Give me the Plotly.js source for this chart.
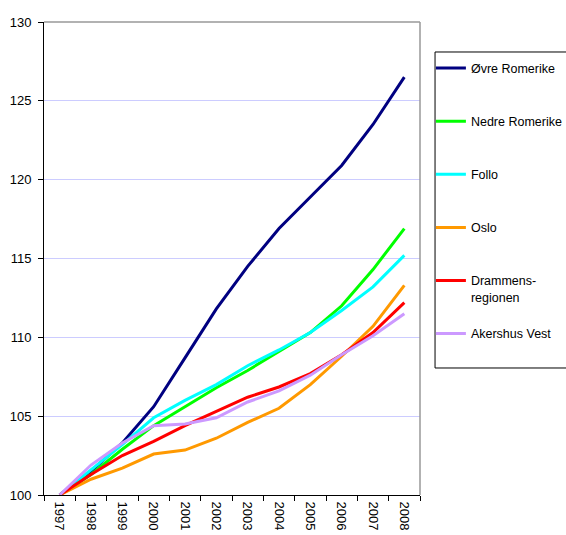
<!DOCTYPE html>
<html>
<head>
<meta charset="utf-8">
<script src="https://cdn.plot.ly/plotly-3.0.1.min.js"></script>
<style>html,body{margin:0;padding:0;background:#fff;}#chart{width:566px;height:535px;}</style>
</head>
<body>
<div id="chart"></div>
<script>
const years = ['1997','1998','1999','2000','2001','2002','2003','2004','2005','2006','2007','2008'];
const ovreRomerike = [100, 101.5, 103.3, 105.6, 108.7, 111.8, 114.5, 116.9, 118.9, 120.9, 123.5, 126.5];
const nedreRomerike = [100, 101.3, 102.9, 104.4, 105.6, 106.8, 107.9, 109.1, 110.3, 112.0, 114.3, 116.9];
const follo = [100, 101.6, 103.2, 104.9, 106.0, 107.0, 108.2, 109.2, 110.3, 111.7, 113.2, 115.2];
const oslo = [100, 101.0, 101.7, 102.6, 102.85, 103.6, 104.6, 105.5, 107.0, 108.8, 110.7, 113.3];
const drammensregionen = [100, 101.3, 102.5, 103.4, 104.4, 105.3, 106.2, 106.85, 107.7, 108.9, 110.3, 112.2];
const akershusVest = [100, 101.9, 103.3, 104.4, 104.5, 104.9, 105.9, 106.6, 107.6, 108.9, 110.1, 111.5];
const seriesNames = ['Øvre Romerike<br> ', 'Nedre Romerike<br> ', 'Follo<br> ', 'Oslo<br> ', 'Drammens-<br>regionen', 'Akershus Vest<br> '];
const yTicks = [100, 105, 110, 115, 120, 125, 130];

const seriesData = [ovreRomerike, nedreRomerike, follo, oslo, drammensregionen, akershusVest];
const colors = ['#000080', '#00ff00', '#00ffff', '#ff9900', '#ff0000', '#cc99ff'];

const traces = seriesData.map((vals, i) => ({
  type: 'scatter', mode: 'lines', x: years, y: vals, name: seriesNames[i],
  legendgroup: 'g' + i,
  line: {color: colors[i], width: 3}
}));

const layout = {
  width: 566, height: 535,
  margin: {l: 44, r: 146, t: 22, b: 40, autoexpand: false},
  paper_bgcolor: '#fff', plot_bgcolor: '#fff',
  font: {family: 'Liberation Sans, Arial, sans-serif', color: '#000', size: 13},
  showlegend: true,
  legend: {
    x: 1.029, xanchor: 'left', y: 0.9335, yanchor: 'top',
    traceorder: 'grouped', tracegroupgap: 17.6, valign: 'top',
    font: {size: 12.5, family: 'Liberation Sans, Arial, sans-serif'},
    bgcolor: 'rgba(0,0,0,0)', borderwidth: 0
  },
  xaxis: {
    type: 'category', range: [-0.5, 11.5], tickangle: 90,
    showline: true, linecolor: '#000', linewidth: 1,
    ticks: 'outside', ticklen: 5, tickcolor: '#000', tickson: 'boundaries',
    ticklabelstandoff: 3,
    showgrid: false, zeroline: false, fixedrange: true,
    tickfont: {size: 13}
  },
  yaxis: {
    range: [100, 130], tickvals: yTicks, ticktext: yTicks.map(String),
    showline: true, linecolor: '#000', linewidth: 1,
    ticks: 'outside', ticklen: 5, tickcolor: '#000', ticklabelstandoff: 4,
    showgrid: true, gridcolor: '#ccccff', gridwidth: 1, zeroline: false,
    tickfont: {size: 13}
  },
  shapes: [
    {type: 'line', xref: 'paper', yref: 'paper', x0: 0, x1: 1, y0: 1, y1: 1, line: {color: '#999999', width: 1.5}},
    {type: 'line', xref: 'paper', yref: 'paper', x0: 1, x1: 1, y0: 0, y1: 1, line: {color: '#999999', width: 1.5}},
    {type: 'rect', xref: 'paper', yref: 'paper', x0: 1.04, x1: 1.6, y0: 0.2685, y1: 0.9366, line: {color: '#000', width: 1}, fillcolor: 'rgba(0,0,0,0)'}
  ]
};

Plotly.newPlot('chart', traces, layout, {staticPlot: true, displayModeBar: false});
</script>
</body>
</html>
